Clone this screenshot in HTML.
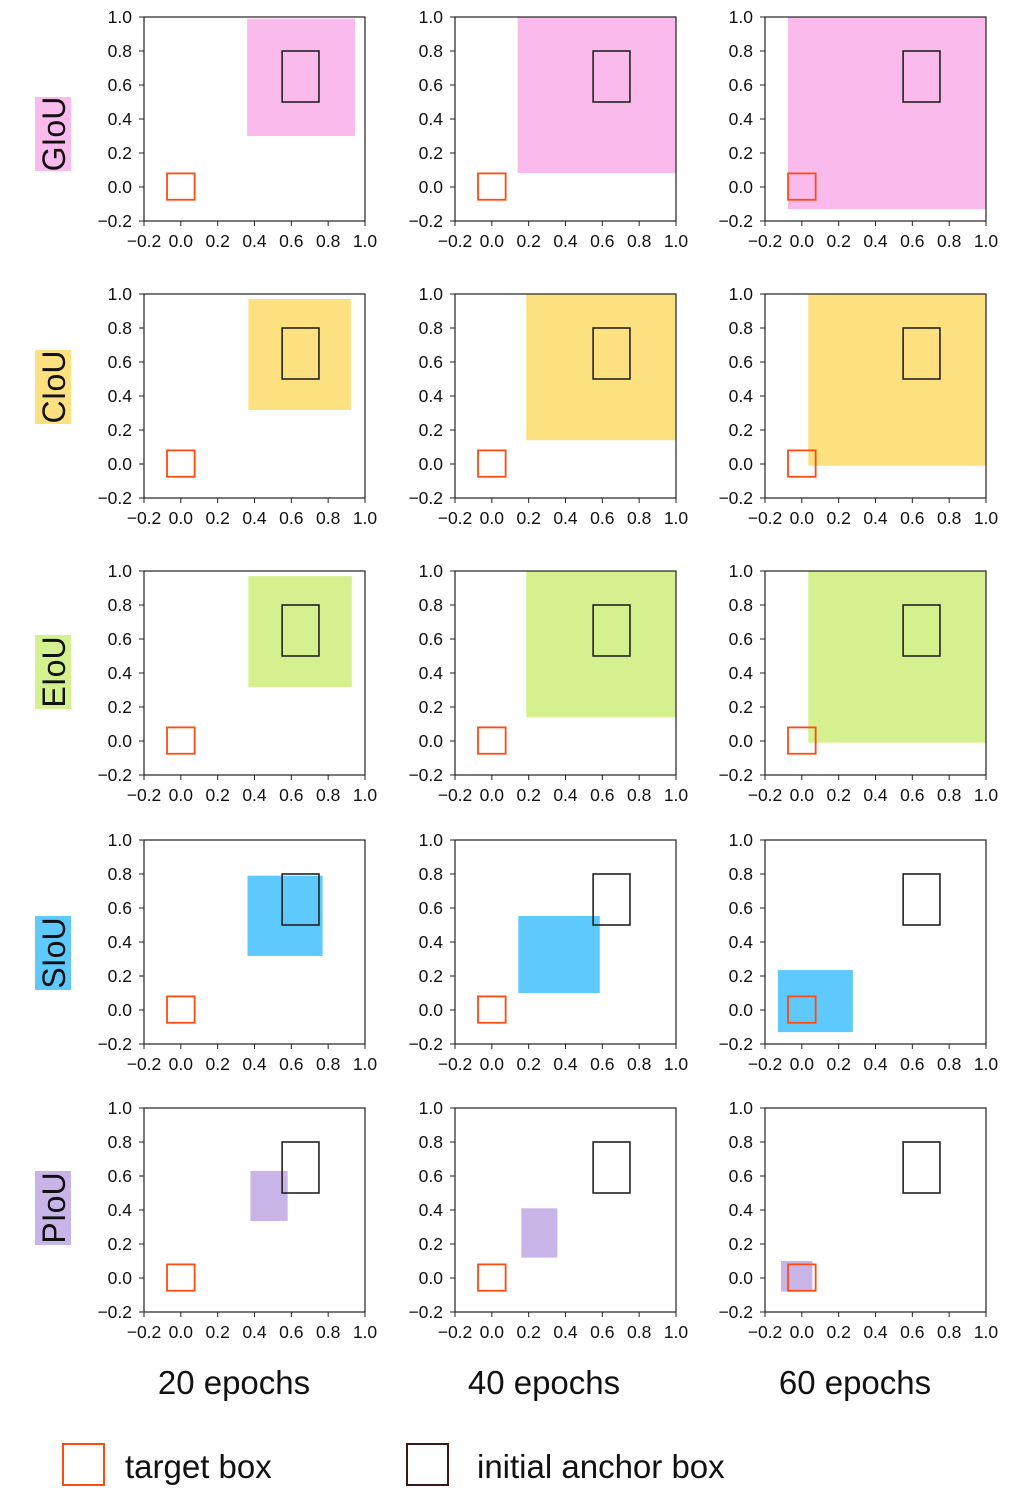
<!DOCTYPE html>
<html><head><meta charset="utf-8"><style>
body{margin:0;background:#fff;}
svg{display:block;font-family:"Liberation Sans",sans-serif;}
</style></head><body>
<svg id="fig" width="1023" height="1501" viewBox="0 0 1023 1501" xmlns="http://www.w3.org/2000/svg"></svg>
<script>
const methods = ["GIoU","CIoU","EIoU","SIoU","PIoU"];
const methodColors = ["#fbbaec","#fde07f","#d5f08e","#5ec9fd","#c9b4e8"];
const epochLabels = ["20 epochs","40 epochs","60 epochs"];
const tickValues = [-0.2,0,0.2,0.4,0.6,0.8,1.0];
const tickLabels = ["\u22120.2","0.0","0.2","0.4","0.6","0.8","1.0"];
const targetBox = [-0.075,-0.075,0.075,0.08];
const anchorBox = [0.55,0.5,0.75,0.8];
// predicted boxes [x0,y0,x1,y1] per method per epoch
const giouBoxes = [[0.36,0.30,0.946,0.99],[0.14,0.082,1.0,1.0],[-0.075,-0.13,1.0,1.0]];
const ciouBoxes = [[0.367,0.318,0.923,0.97],[0.187,0.14,1.0,1.0],[0.035,-0.01,1.0,1.0]];
const eiouBoxes = [[0.367,0.318,0.928,0.97],[0.187,0.14,1.0,1.0],[0.035,-0.01,1.0,1.0]];
const siouBoxes = [[0.362,0.318,0.77,0.79],[0.144,0.10,0.586,0.553],[-0.13,-0.13,0.277,0.235]];
const piouBoxes = [[0.378,0.335,0.58,0.63],[0.16,0.12,0.356,0.41],[-0.113,-0.08,0.057,0.10]];
const allBoxes = [giouBoxes,ciouBoxes,eiouBoxes,siouBoxes,piouBoxes];

const colLeft = [144,455,765];
const rowTop = [17,294,571,840,1108];
const labelCenters = [134,387,672,953,1208];
const W = 221, H = 204;
const NS = "http://www.w3.org/2000/svg";
const svg = document.getElementById('fig');
function mk(tag, attrs, parent){
  const e = document.createElementNS(NS, tag);
  for (const k in attrs) e.setAttribute(k, attrs[k]);
  (parent||svg).appendChild(e);
  return e;
}
function sx(c,v){return colLeft[c] + (v+0.2)/1.2*W;}
function sy(r,v){return rowTop[r] + (1.0-v)/1.2*H;}

for (let r=0;r<5;r++){
  const cy = labelCenters[r];
  const bg = mk('rect',{x:35,y:cy-37,width:36,height:74,fill:methodColors[r]});
  
  
  const lt = mk('text',{x:0,y:0,transform:`translate(65,${cy}) rotate(-90)`,'text-anchor':'middle','font-size':32,fill:'#111'});
  lt.textContent = methods[r];
  
  
  for (let c=0;c<3;c++){
    const g = mk('g',{});
    
    
    const b = allBoxes[r][c];
    const pr = mk('rect',{x:sx(c,b[0]),y:sy(r,b[3]),width:sx(c,b[2])-sx(c,b[0]),height:sy(r,b[1])-sy(r,b[3]),fill:methodColors[r]},g);
    
    
    const tb = mk('rect',{x:sx(c,targetBox[0]),y:sy(r,targetBox[3]),width:sx(c,targetBox[2])-sx(c,targetBox[0]),height:sy(r,targetBox[1])-sy(r,targetBox[3]),fill:'none',stroke:'#ff4a10','stroke-width':1.8},g);
    
    
    const ab = mk('rect',{x:sx(c,anchorBox[0]),y:sy(r,anchorBox[3]),width:sx(c,anchorBox[2])-sx(c,anchorBox[0]),height:sy(r,anchorBox[1])-sy(r,anchorBox[3]),fill:'none',stroke:'#222','stroke-width':1.6},g);
    
    
    const fr = mk('rect',{x:colLeft[c],y:rowTop[r],width:W,height:H,fill:'none',stroke:'#222','stroke-width':1.2},g);
    
    
    for (let i=0;i<tickValues.length;i++){
      const x = sx(c,tickValues[i]), y = sy(r,tickValues[i]);
      mk('line',{x1:x,x2:x,y1:rowTop[r]+H,y2:rowTop[r]+H+5,stroke:'#222','stroke-width':1},g);
      mk('line',{x1:colLeft[c]-5,x2:colLeft[c],y1:y,y2:y,stroke:'#222','stroke-width':1},g);
      const xt = mk('text',{x:x,y:rowTop[r]+H+26,'text-anchor':'middle','font-size':17.5,fill:'#111'},g);
      xt.textContent = tickLabels[i];
      
      
      const yt = mk('text',{x:colLeft[c]-12,y:y+6,'text-anchor':'end','font-size':17.5,fill:'#111'},g);
      yt.textContent = tickLabels[i];
      
      
    }
  }
}
const epochCenters=[234,544,855];
for (let c=0;c<3;c++){
  const t = mk('text',{x:epochCenters[c],y:1394,'text-anchor':'middle','font-size':33,fill:'#111'});
  t.textContent = epochLabels[c];
  
  
}
const l1 = mk('rect',{x:63,y:1444,width:41,height:41,fill:'none',stroke:'#ff4a10','stroke-width':2});


const l1t = mk('text',{x:125,y:1478,'font-size':33,fill:'#111'});
l1t.textContent='target box';


const l2 = mk('rect',{x:407,y:1444,width:41,height:41,fill:'none',stroke:'#3a1818','stroke-width':2});


const l2t = mk('text',{x:477,y:1478,'font-size':33,fill:'#111'});
l2t.textContent='initial anchor box';


</script>
</body></html>
